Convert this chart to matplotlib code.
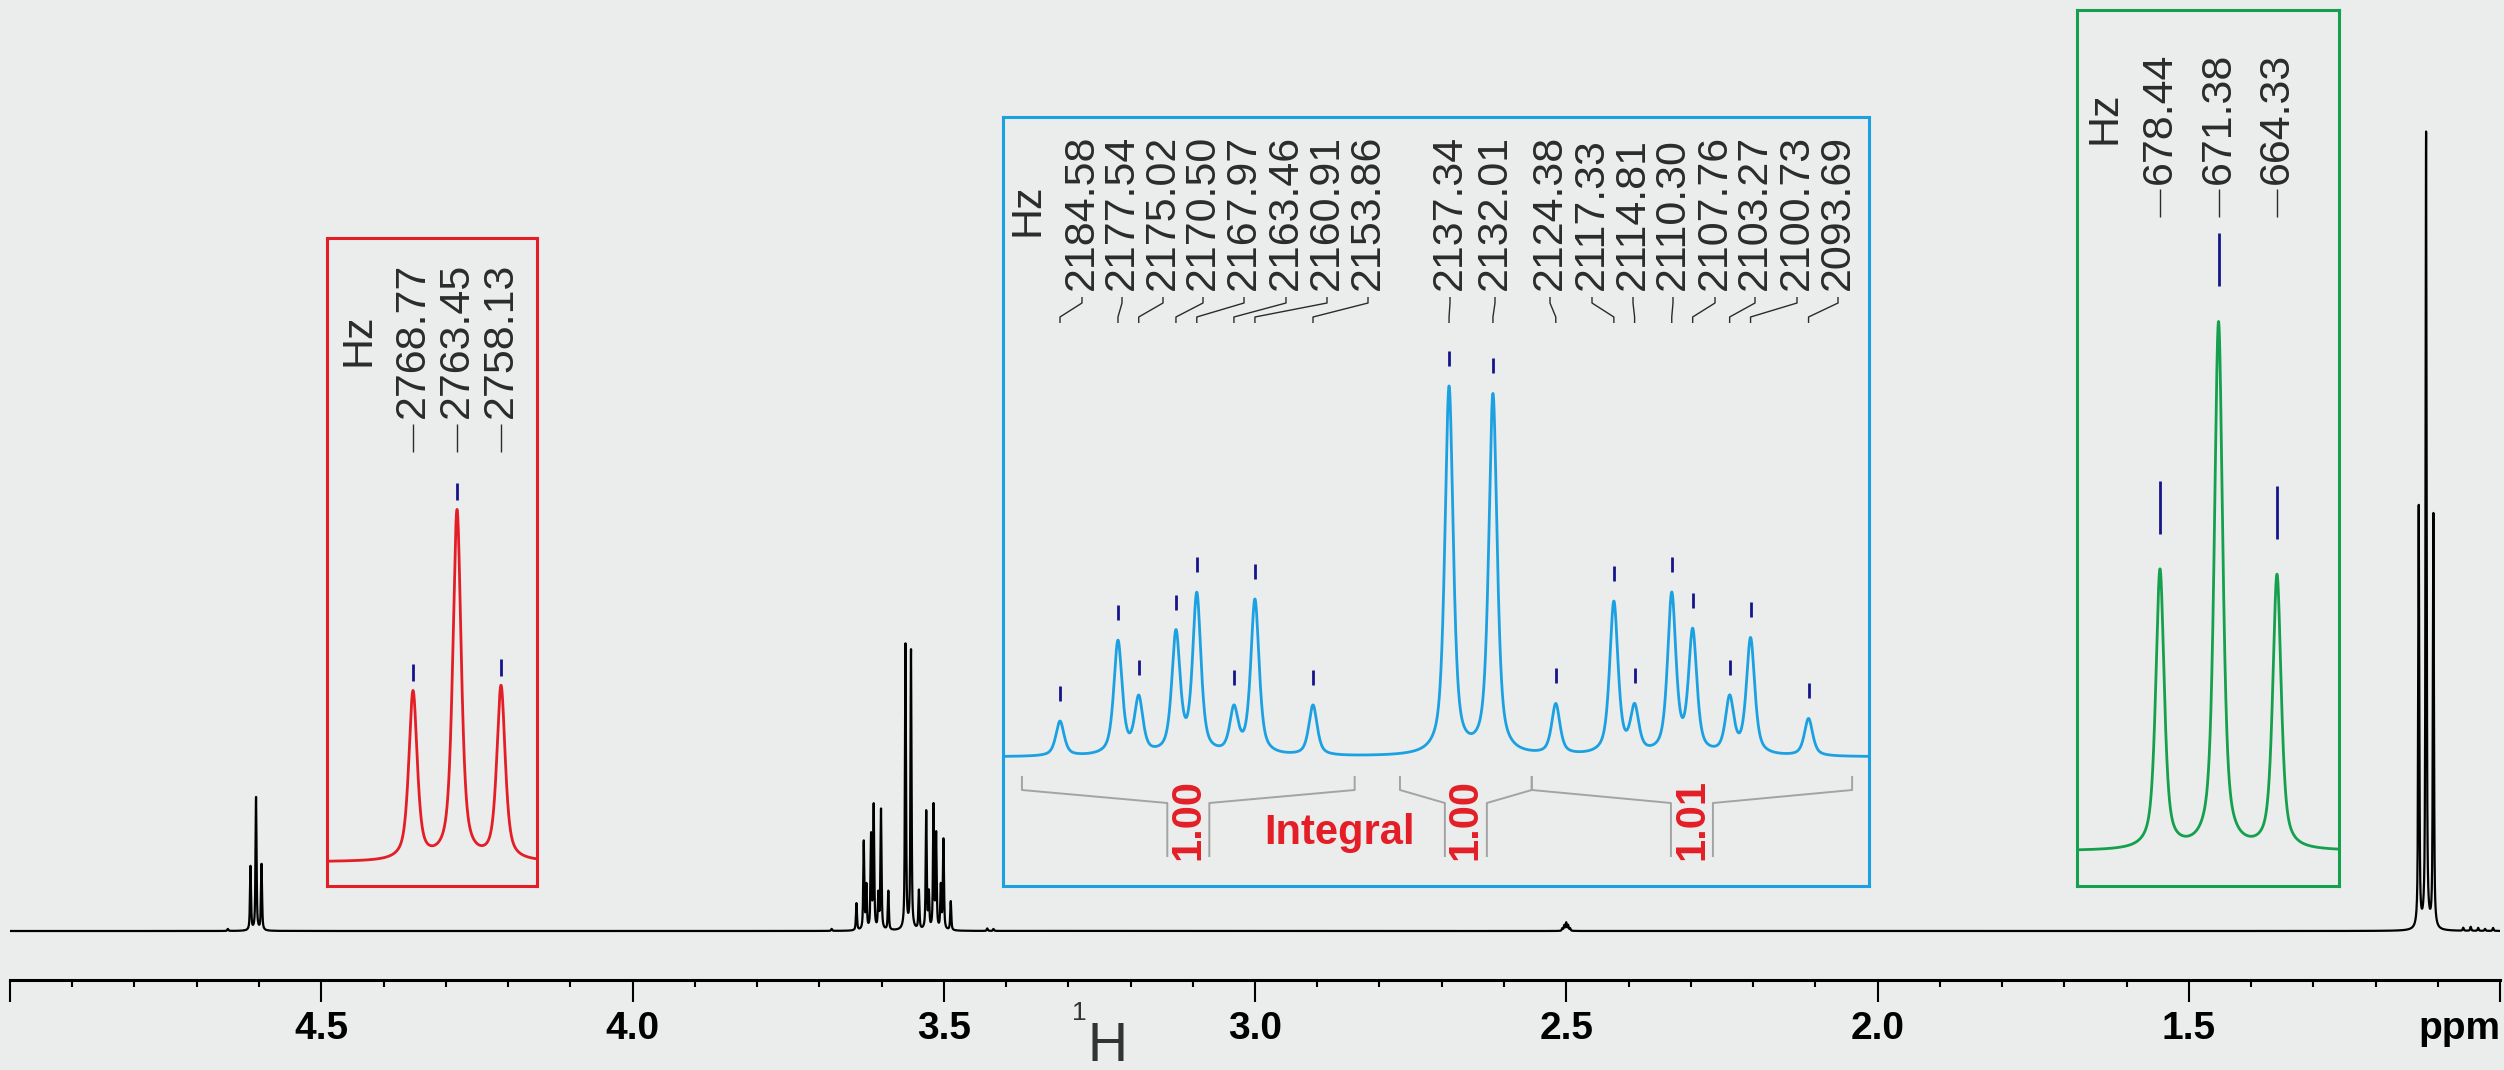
import numpy as np
import matplotlib
matplotlib.use("Agg")
import matplotlib.pyplot as plt
from matplotlib.lines import Line2D
from matplotlib.ticker import MultipleLocator
from matplotlib import font_manager

plt.rcParams['font.family'] = ['Liberation Sans', 'DejaVu Sans']

# ---------------- data ----------------
SF_MHZ = 600.13  # spectrometer frequency

# triplet ~4.60 ppm (red inset)
red_hz = [2768.77, 2763.45, 2758.13]
red_int = [64, 133, 66]

# multiplets 3.49-3.64 ppm (blue inset)
blue_hz = [2184.58, 2177.54, 2175.02, 2170.50, 2167.97, 2163.46, 2160.91, 2153.86,
           2137.34, 2132.01,
           2124.38, 2117.33, 2114.81, 2110.30, 2107.76, 2103.27, 2100.73, 2093.69]
blue_int = [27, 88, 43, 93, 123, 34, 120, 39,
            285, 279,
            39, 118, 35, 123, 94, 43, 90, 29]

# triplet ~1.12 ppm (green inset)
green_hz = [678.44, 671.38, 664.33]
green_int = [422, 796, 414]

# small signals (solvent, impurities)
minor_ppm = [2.5062, 2.5031, 2.5000, 2.4969, 2.4938,
             4.650, 3.680, 3.430, 3.420,
             1.059, 1.047, 1.035, 1.024, 1.011]
minor_int = [2.5, 5.5, 8, 5.5, 2.5,
             2, 2, 2.5, 2,
             3, 4, 3, 2, 3]

integral_ranges_hz = [(2189.2, 2148.8), (2143.3, 2127.3), (2127.3, 2088.4)]
integral_values = ['1.00', '1.00', '1.01']

xtick_major = [5.0, 4.5, 4.0, 3.5, 3.0, 2.5, 2.0, 1.5, 1.0]
xtick_labels = ['', '4.5', '4.0', '3.5', '3.0', '2.5', '2.0', '1.5', 'ppm']

# ---------------- line shape ----------------
FWHM_HZ = 1.2
ETA = 0.65

all_hz = np.array(red_hz + blue_hz + green_hz + [p * SF_MHZ for p in minor_ppm])
all_int = np.array(red_int + blue_int + green_int + minor_int, dtype=float)


def spectrum(hz):
    hz = np.asarray(hz)[:, None]
    g = FWHM_HZ / 2.0
    sig = FWHM_HZ / 2.3548
    d = hz - all_hz[None, :]
    lor = 1.0 / (1.0 + (d / g) ** 2)
    gau = np.exp(-0.5 * (d / sig) ** 2)
    return ((ETA * lor + (1 - ETA) * gau) * all_int[None, :]).sum(axis=1)


# tick-label font: condensed bold if available
_names = {f.name for f in font_manager.fontManager.ttflist}
if 'Liberation Sans Narrow' in _names:
    TICK_FAMILY, TICK_SIZE = ['Liberation Sans Narrow', 'Liberation Sans'], 31
else:
    TICK_FAMILY, TICK_SIZE = ['Liberation Sans', 'DejaVu Sans'], 28

# ---------------- figure ----------------
W, H = 2504, 1070
BG = '#ebecec'
fig = plt.figure(figsize=(W / 100, H / 100), dpi=100, facecolor=BG)


def fx(x):
    return x / W


def fy(y):
    return 1 - y / H


# main axes: x 10..2500 px, axis line at y=980, baseline at 931
ax = fig.add_axes([fx(10), fy(980), 2490 / W, 980 / H])
ax.set_facecolor('none')
ppm = np.arange(0.98, 5.02, 0.00005)
ax.plot(ppm, spectrum(ppm * SF_MHZ), color='black', lw=1.6, solid_joinstyle='round')
ax.set_xlim(5.0, 1.0)
ax.set_ylim(-49, 931)
for s in ['left', 'right', 'top']:
    ax.spines[s].set_visible(False)
ax.spines['bottom'].set_linewidth(2.2)
ax.set_yticks([])
ax.set_xticks(xtick_major)
ax.set_xticklabels(xtick_labels)
ax.xaxis.set_minor_locator(MultipleLocator(0.1))
ax.tick_params(axis='x', which='major', length=16, width=1.5, direction='out',
               labelsize=TICK_SIZE, pad=6, colors='black')
ax.tick_params(axis='x', which='minor', length=5, width=1.5, direction='out')
for t in ax.get_xticklabels():
    t.set_fontweight('bold')
    t.set_family(TICK_FAMILY)
ax.get_xticklabels()[-1].set_ha('right')

fig.text(fx(1079), fy(1013), '1', fontsize=19, ha='center', va='center', color='#333333')
fig.text(fx(1108), fy(1047), 'H', fontsize=40, ha='center', va='center', color='#333333')

LABEL_COLOR = '#2b2b2b'
MARK_COLOR = '#15158a'


def make_inset(box, xlim, base_y, scale, color):
    x0, y0, x1, y1 = box
    a = fig.add_axes([fx(x0), fy(y1), (x1 - x0) / W, (y1 - y0) / H])
    a.set_facecolor('none')
    hz = np.linspace(xlim[0], xlim[1], 6000)
    a.plot(hz, spectrum(hz), color=color, lw=2.0)
    a.set_xlim(*xlim)
    a.set_ylim(-(y1 - base_y) / scale, (base_y - y0) / scale)
    a.set_xticks([])
    a.set_yticks([])
    for s in a.spines.values():
        s.set_color(color)
        s.set_linewidth(2.2)
    return a


def peak_px(a, hz):
    val = spectrum([hz])[0]
    xd, yd = a.transData.transform((hz, val))
    return xd, H - yd  # image coords (y down)


def fig_line(xs, ys, color, lw):
    fig.add_artist(Line2D([fx(x) for x in xs], [fy(y) for y in ys],
                          color=color, lw=lw, solid_capstyle='butt'))


def annotate(a, peaks, cols, text_bottom, conn, gap, mlen, hz_center_y):
    for hz, col in zip(peaks, cols):
        xp, yp = peak_px(a, hz)
        if col is None:
            col = xp
        # peak marker
        fig_line([xp, xp], [yp - gap, yp - gap - mlen], MARK_COLOR, 2.0)
        # connector
        c0, c1, c2, c3 = conn
        fig_line([col, col, xp, xp], [c0, c1, c2, c3], LABEL_COLOR, 1.0)
        fig.text(fx(col), fy(text_bottom), f'{hz:.2f}', rotation=90, ha='center',
                 va='bottom', fontsize=31, color=LABEL_COLOR)
    first = cols[0] if cols[0] is not None else peak_px(a, peaks[0])[0]
    fig.text(fx(first - 55), fy(hz_center_y), 'Hz', rotation=90, ha='center',
             va='center', fontsize=31, color=LABEL_COLOR)


RED = '#e31e26'
BLUE = '#1ba1e2'
GREEN = '#14a04c'

ax_r = make_inset((327, 238, 537, 886), (2779.17, 2753.78), 862, 2.63, RED)
ax_b = make_inset((1003, 117, 1869, 886), (2191.5, 2086.35), 757, 1.29, BLUE)
ax_g = make_inset((2077, 10, 2339, 886), (688.45, 656.85), 851, 0.662, GREEN)

annotate(ax_r, red_hz, [None] * 3, 418, (424, 438, 438, 452), 9, 17, 340)
annotate(ax_g, green_hz, [None] * 3, 184, (189, 203, 203, 217), 35, 53, 118)
blue_cols = [1082, 1122, 1163, 1203, 1244, 1286, 1327, 1368, 1450, 1495,
             1550, 1592, 1633, 1673, 1715, 1755, 1797, 1838]
annotate(ax_b, blue_hz, blue_cols, 290, (297, 303, 317, 323), 20, 15, 210)

# integrals
INT_GRAY = '#a3a3a3'
for (h0, h1), val in zip(integral_ranges_hz, integral_values):
    xa = ax_b.transData.transform((h0, 0))[0]
    xb = ax_b.transData.transform((h1, 0))[0]
    xc = (xa + xb) / 2
    fig_line([xa, xa, xc - 21, xc - 21], [776, 790, 803, 857], INT_GRAY, 1.4)
    fig_line([xb, xb, xc + 21, xc + 21], [776, 790, 803, 857], INT_GRAY, 1.4)
    fig.text(fx(xc), fy(820), val, rotation=90, ha='center', va='center',
             fontsize=30, fontweight='bold', color=RED)
fig.text(fx(1340), fy(833), 'Integral', ha='center', va='center', fontsize=30,
         fontweight='bold', color=RED)

fig.savefig('out.png', dpi=100, facecolor=BG)
